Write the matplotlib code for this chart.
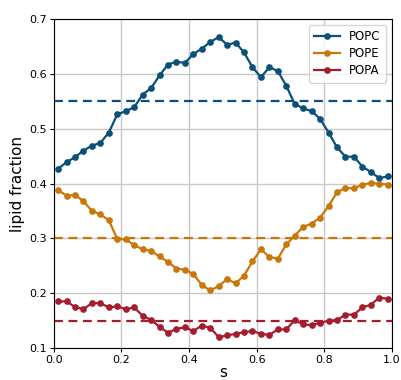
import numpy as np
import matplotlib
matplotlib.use("Agg")
import matplotlib.pyplot as plt

# bin centres along the path coordinate s
n_bins = 40
s = (np.arange(n_bins) + 0.5) / n_bins

popc = [0.427, 0.439, 0.448, 0.460, 0.469, 0.474, 0.493, 0.526, 0.532, 0.539,
        0.562, 0.574, 0.597, 0.617, 0.622, 0.620, 0.636, 0.646, 0.658, 0.667,
        0.653, 0.657, 0.639, 0.612, 0.594, 0.612, 0.605, 0.578, 0.545, 0.537,
        0.532, 0.518, 0.493, 0.466, 0.449, 0.449, 0.431, 0.421, 0.410, 0.413]
pope = [0.388, 0.378, 0.379, 0.368, 0.350, 0.344, 0.333, 0.299, 0.298, 0.288,
        0.280, 0.277, 0.267, 0.257, 0.245, 0.243, 0.235, 0.215, 0.205, 0.213,
        0.226, 0.218, 0.232, 0.258, 0.280, 0.266, 0.263, 0.289, 0.305, 0.321,
        0.327, 0.338, 0.359, 0.384, 0.392, 0.391, 0.398, 0.401, 0.400, 0.398]
popa = [0.185, 0.185, 0.175, 0.171, 0.182, 0.182, 0.174, 0.176, 0.171, 0.174,
        0.159, 0.151, 0.139, 0.128, 0.135, 0.138, 0.131, 0.141, 0.137, 0.120,
        0.123, 0.126, 0.129, 0.131, 0.126, 0.124, 0.134, 0.134, 0.151, 0.143,
        0.142, 0.146, 0.150, 0.151, 0.161, 0.161, 0.174, 0.179, 0.192, 0.190]

labels = ["POPC", "POPE", "POPA"]
reference = [0.55, 0.30, 0.15]
colors = ["#0b5078", "#c8780a", "#a51c2e"]

fig = plt.figure(figsize=(4.02, 3.80), dpi=100)
ax = fig.add_axes([0.134, 0.084, 0.841, 0.866])

for y, lab, ref, c in zip([popc, pope, popa], labels, reference, colors):
    ax.plot(s, y, "-o", color=c, lw=1.6, ms=3.8, label=lab)
    ax.axhline(ref, color=c, lw=1.6, ls=(0, (4, 2.5)))

ax.set_xlim(0, 1)
ax.set_ylim(0.1, 0.7)
ax.set_xticks(np.arange(0, 1.01, 0.2))
ax.set_yticks(np.arange(0.1, 0.71, 0.1))
ax.grid(True, color="#c8c8c8", lw=1.0)
ax.set_axisbelow(True)
ax.tick_params(labelsize=8, length=3, pad=2)
ax.set_xlabel("s", fontsize=11, labelpad=0)
ax.set_ylabel("lipid fraction", fontsize=11, labelpad=3)
ax.legend(loc="upper right", fontsize=8.5, handlelength=2.2, borderpad=0.45,
          labelspacing=0.35, framealpha=0.8)

fig.savefig("out.png", dpi=100)
